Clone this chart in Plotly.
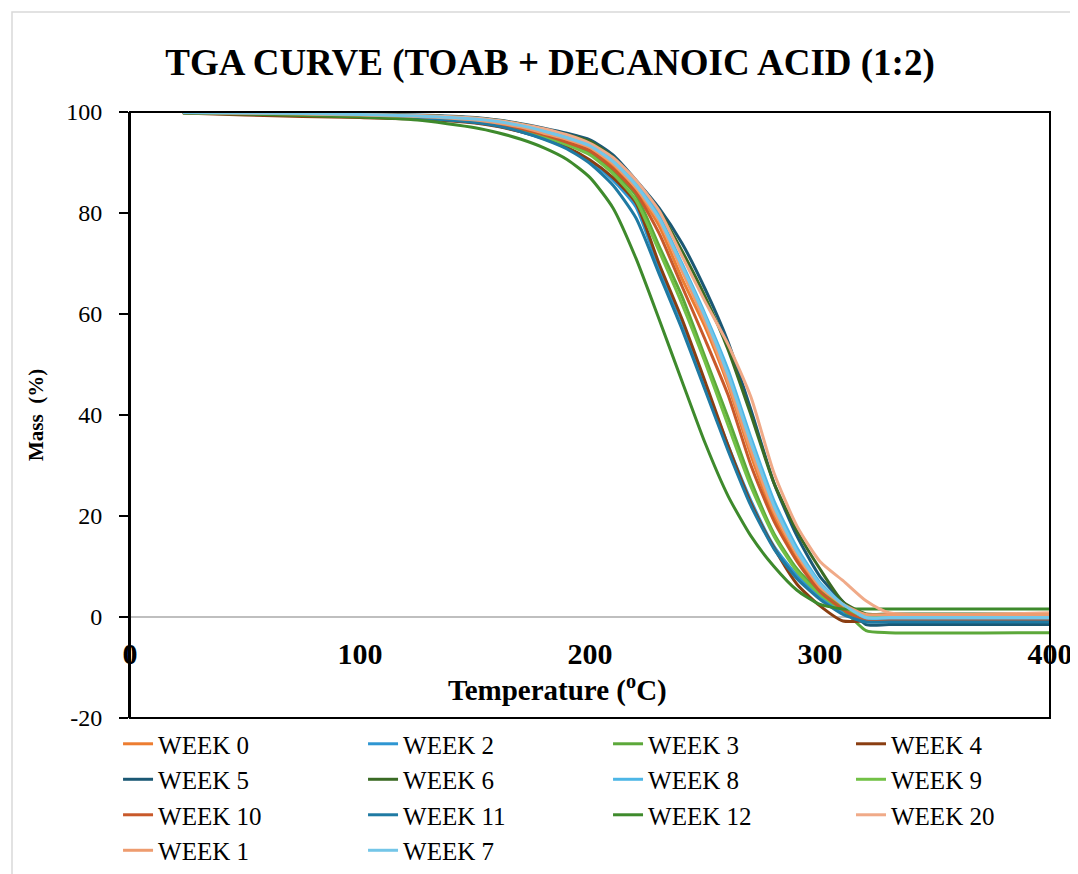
import plotly.graph_objects as go

# ---------------- data ----------------
temperature = [23, 50, 75, 100, 125, 150, 160, 170, 180, 190, 200, 210, 220, 230,
               240, 250, 260, 270, 280, 290, 300, 310, 320, 330, 400]

week0 = [99.9, 99.8, 99.6, 99.3, 99.0, 98.3, 97.7, 96.8, 95.6, 94.4, 92.8, 89.3, 84.5, 77.5,
         67.0, 57.5, 46.0, 32.0, 20.0, 11.5, 5.5, 2.0, 0.2, 0.2, 0.2]
week2 = [99.9, 99.7, 99.5, 99.2, 98.8, 97.9, 97.2, 96.1, 94.7, 92.9, 90.3, 86.5, 81.2, 69.0,
         58.5, 46.0, 34.0, 23.0, 14.0, 8.2, 4.0, 1.0, -0.3, -0.3, -0.3]
week3 = [99.9, 99.8, 99.6, 99.3, 99.0, 98.2, 97.5, 96.6, 95.3, 93.8, 91.8, 88.3, 83.5, 73.5,
         63.5, 51.5, 39.5, 26.9, 16.5, 9.5, 5.0, 1.5, -2.7, -3.1, -3.1]
week4 = [99.8, 99.4, 99.1, 98.9, 98.6, 97.8, 97.1, 96.1, 94.8, 93.0, 90.5, 87.0, 82.0, 70.0,
         59.0, 46.7, 34.0, 22.5, 13.7, 6.5, 2.2, -0.8, -0.8, -0.8, -0.8]
week5 = [99.9, 99.8, 99.7, 99.6, 99.4, 98.9, 98.4, 97.7, 96.8, 95.8, 94.5, 91.5, 86.5, 81.0,
         74.0, 65.0, 54.5, 41.0, 26.5, 16.0, 8.0, 3.0, -1.5, -1.5, -1.5]
week6 = [99.9, 99.8, 99.7, 99.5, 99.3, 98.8, 98.3, 97.6, 96.6, 95.5, 94.2, 91.0, 86.0, 80.5,
         72.5, 63.5, 53.0, 40.0, 26.5, 17.0, 9.5, 3.0, 0.6, 0.6, 0.6]
week8 = [99.9, 99.8, 99.7, 99.5, 99.2, 98.7, 98.2, 97.4, 96.4, 95.1, 93.5, 90.5, 86.0, 79.5,
         70.0, 60.0, 49.0, 35.5, 23.0, 13.7, 6.8, 2.5, -0.4, -0.4, -0.4]
week9 = [99.9, 99.8, 99.6, 99.3, 98.9, 98.1, 97.4, 96.4, 95.1, 93.5, 91.5, 87.8, 82.5, 72.5,
         62.0, 50.5, 38.0, 25.8, 16.0, 9.0, 4.5, 1.5, 0.3, 0.3, 0.3]
week10 = [99.9, 99.8, 99.6, 99.3, 99.0, 98.2, 97.6, 96.7, 95.5, 94.0, 92.3, 88.8, 84.0, 76.0,
          65.5, 55.0, 44.0, 30.0, 19.0, 11.0, 5.0, 1.5, -0.8, -0.8, -0.8]
week11 = [99.9, 99.7, 99.5, 99.2, 98.8, 97.9, 97.2, 96.1, 94.6, 92.7, 89.8, 85.5, 79.0, 68.0,
          57.0, 45.0, 33.0, 22.0, 13.5, 7.6, 3.5, 0.5, -1.0, -1.0, -1.0]
week12 = [99.8, 99.6, 99.3, 99.0, 98.4, 96.9, 95.9, 94.6, 92.9, 90.6, 87.0, 81.0, 71.0, 59.0,
          46.7, 34.5, 24.0, 16.0, 10.0, 5.3, 2.5, 1.6, 1.6, 1.6, 1.6]
week20 = [99.9, 99.8, 99.7, 99.5, 99.3, 98.8, 98.3, 97.6, 96.7, 95.5, 93.8, 91.0, 86.5, 80.5,
          71.5, 62.5, 54.0, 43.5, 28.5, 18.0, 11.0, 7.2, 3.2, 0.85, 0.85]
week1 = [99.9, 99.8, 99.6, 99.4, 99.1, 98.4, 97.8, 97.0, 95.8, 94.6, 93.0, 89.8, 85.0, 78.5,
         68.5, 58.5, 46.7, 33.0, 21.0, 12.5, 6.0, 2.5, 0.5, 0.5, 0.5]
week7 = [99.9, 99.8, 99.7, 99.5, 99.2, 98.6, 98.1, 97.3, 96.2, 94.9, 93.3, 90.2, 85.5, 79.0,
         69.5, 59.5, 48.0, 34.5, 22.0, 13.0, 6.5, 2.5, -0.1, -0.1, -0.1]

series_names = ["WEEK 0", "WEEK 2", "WEEK 3", "WEEK 4", "WEEK 5", "WEEK 6", "WEEK 8",
                "WEEK 9", "WEEK 10", "WEEK 11", "WEEK 12", "WEEK 20", "WEEK 1", "WEEK 7"]
series_values = [week0, week2, week3, week4, week5, week6, week8,
                 week9, week10, week11, week12, week20, week1, week7]
series_colors = ["#ED7D31", "#2E96D2", "#5CA83A", "#8A3E12", "#1B5874", "#3A6A24", "#4DB6E6",
                 "#72C146", "#C8592A", "#1F7AA3", "#3E8A2C", "#F0AA88", "#EE9C6F", "#74C6E8"]
# legend column of each series (4 columns, filled row by row as in the reference)
series_legend = ["legend", "legend2", "legend3", "legend4",
                 "legend", "legend2", "legend3", "legend4",
                 "legend", "legend2", "legend3", "legend4",
                 "legend", "legend2"]

x_ticks = [0, 100, 200, 300, 400]
y_ticks = [-20, 0, 20, 40, 60, 80, 100]
y_tick_text = ["-20", "0", "20", "40", "60", "80", "100"]

FONT = "Liberation Serif, Times New Roman, serif"

# geometry (figure pixels; the page body adds an 8px offset)
W, H = 1070, 866
L, T_, PW, PH = 122, 104, 920, 606

fig = go.Figure()
for name, vals, col, lg in zip(series_names, series_values, series_colors, series_legend):
    fig.add_trace(go.Scatter(
        x=temperature, y=vals, name=name, mode="lines", legend=lg,
        line=dict(color=col, width=3, shape="spline", smoothing=0.6),
    ))

legend_font = dict(family=FONT, size=25, color="black")
leg_common = dict(orientation="v", xanchor="left", y=-0.005, yanchor="top",
                  traceorder="normal", font=legend_font, bgcolor="rgba(0,0,0,0)",
                  itemclick=False)

fig.update_layout(
    width=W, height=H,
    margin=dict(l=L, r=W - L - PW, t=T_, b=H - T_ - PH, autoexpand=False),
    paper_bgcolor="white", plot_bgcolor="white",
    font=dict(family=FONT, color="black", size=24),
    title=dict(text="<b>TGA CURVE (TOAB + DECANOIC ACID (1:2)</b>",
               font=dict(family=FONT, size=37, color="black"),
               xref="paper", x=(542 - L) / PW, xanchor="center",
               yref="container", y=1 - 54 / H, yanchor="middle"),
    showlegend=True,
    legend=dict(x=-0.013, **leg_common),
    legend2=dict(x=0.2533, **leg_common),
    legend3=dict(x=0.5196, **leg_common),
    legend4=dict(x=0.7837, **leg_common),
    xaxis=dict(range=[0, 400], tickvals=x_ticks, showgrid=False, zeroline=False,
               showline=False, ticks="", anchor="free", position=(718 - 616) / 606,
               ticklabelstandoff=17,
               tickfont=dict(family=FONT, size=30, color="black", weight="bold")),
    yaxis=dict(range=[-20, 100], tickvals=y_ticks, ticktext=y_tick_text, showgrid=False,
               zeroline=True, zerolinecolor="#bfbfbf", zerolinewidth=2,
               showline=True, linecolor="black", linewidth=2,
               ticks="outside", ticklen=9, tickwidth=1.5, tickcolor="black",
               ticklabelstandoff=12,
               tickfont=dict(family=FONT, size=24, color="black")),
    shapes=[
        dict(type="rect", xref="x domain", yref="y domain", x0=0, x1=1, y0=0, y1=1,
             line=dict(color="black", width=2), layer="above"),
        dict(type="rect", xref="paper", yref="paper",
             x0=(12 - 130) / PW, x1=(1077 - 130) / PW,
             y0=(718 - 880) / PH, y1=(718 - 12) / PH,
             line=dict(color="#d9d9d9", width=1.5), layer="below"),
    ],
    annotations=[
        dict(text="<b>Temperature (<sup>o</sup>C)</b>", xref="paper", yref="paper",
             x=(557 - 130) / PW, y=(718 - 688) / PH, xanchor="center", yanchor="middle",
             showarrow=False, font=dict(family=FONT, size=29, color="black")),
        dict(text="<b>Mass  (%)</b>", xref="paper", yref="paper",
             x=(36 - 130) / PW, y=0.5, xanchor="center", yanchor="middle",
             textangle=-90, showarrow=False,
             font=dict(family=FONT, size=21, color="black")),
    ],
)

fig.write_html("out.html")
